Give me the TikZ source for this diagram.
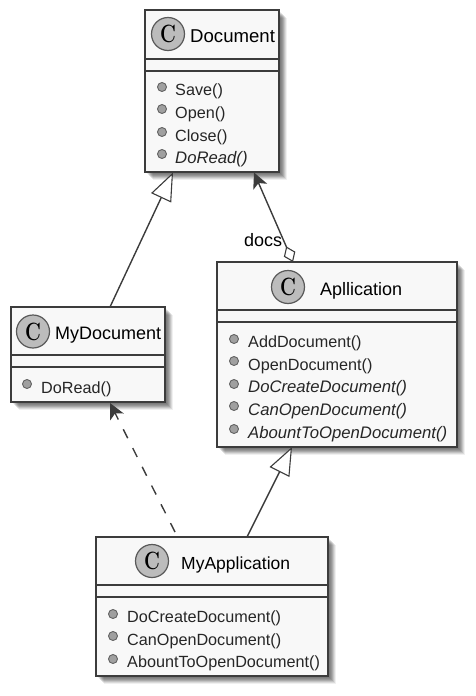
\documentclass[tikz,border=0pt]{standalone}
\usepackage{fontspec}
\newfontfamily\uifont{Liberation Sans}
\usetikzlibrary{arrows.meta}
\definecolor{boxfill}{HTML}{F8F8F8}
\definecolor{boxline}{HTML}{3C3C3C}
\definecolor{spotfill}{HTML}{BCBCBC}
\definecolor{dotfill}{HTML}{A0A0A0}
\newcommand{\spotletter}{\scalebox{.78}[1]{\bfseries C}}
\tikzset{
  shadowed/.style={
    preaction={fill=black,opacity=.08,transform canvas={xshift=2pt,yshift=-2pt}},
    preaction={fill=black,opacity=.10,transform canvas={xshift=3pt,yshift=-3pt}},
    preaction={fill=black,opacity=.12,transform canvas={xshift=4pt,yshift=-4pt}},
    preaction={fill=black,opacity=.12,transform canvas={xshift=5pt,yshift=-5pt}},
    preaction={fill=black,opacity=.11,transform canvas={xshift=6pt,yshift=-6pt}},
    preaction={fill=black,opacity=.09,transform canvas={xshift=7pt,yshift=-7pt}},
    preaction={fill=black,opacity=.06,transform canvas={xshift=8pt,yshift=-8pt}}},
  classbox/.style={shadowed,draw=boxline,fill=boxfill,line width=2pt,rectangle,inner sep=0pt,outer sep=0pt},
  sepline/.style={draw=boxline,line width=2pt},
  spot/.style={circle,draw=boxline!85,line width=1.2pt,fill=spotfill,minimum size=33pt,inner sep=0pt,
    font=\fontsize{25}{25}\selectfont},
  classname/.style={font=\uifont\fontsize{18}{20}\selectfont,text=black,inner sep=0pt,anchor=base west},
  member/.style={font=\uifont\fontsize{16.2}{18}\selectfont,text=black!85,inner sep=0pt,anchor=base west},
  abstractmember/.style={member,font=\uifont\itshape\fontsize{16.7}{18}\selectfont},
  memberdot/.style={circle,draw=boxline!80,line width=.9pt,fill=dotfill,minimum size=9pt,inner sep=0pt},
  link/.style={draw=boxline,line width=1.4pt},
  inherit/.style={link,-{Triangle[open,length=28pt,width=22pt,line width=1.1pt,fill=white]}},
  depend/.style={link,dash pattern=on 10pt off 11pt,-{Stealth[inset=4pt,length=15.5pt,width=15pt]}},
  aggreg/.style={link,{Diamond[open,length=17pt,width=12.5pt,line width=1.1pt,fill=white]}-{Stealth[inset=4pt,length=15.5pt,width=15pt]}},
  linklabel/.style={font=\uifont\fontsize{18}{20}\selectfont,text=black,inner sep=0pt,anchor=base west}
}
\begin{document}
\begin{tikzpicture}[x=1pt,y=-1pt]
\useasboundingbox (0,0) rectangle (475,696);
% Document
\node[classbox,minimum width=134pt,minimum height=162pt] (document) at (212,91) {};
\draw[sepline] (145,59) -- (279,59) (145,71) -- (279,71);
\node[spot] (documentC) at (168,34) {\spotletter};
\node[classname,font=\uifont\fontsize{18.6}{20}\selectfont] (documentN) at (190,42) {Document};
\node[memberdot] (d1) at (162,87) {}; \node[member] (d1t) at (175,95) {Save()};
\node[memberdot] (d2) at (162,109) {}; \node[member] (d2t) at (175,118) {Open()};
\node[memberdot] (d3) at (162,132) {}; \node[member] (d3t) at (175,141) {Close()};
\node[memberdot] (d4) at (162,154) {}; \node[abstractmember] (d4t) at (175,163) {DoRead()};
% Apllication
\node[classbox,minimum width=240pt,minimum height=185pt] (app) at (337,354.5) {};
\draw[sepline] (217,310) -- (457,310) (217,322) -- (457,322);
\node[spot] (appC) at (288,287) {\spotletter};
\node[classname] (appN) at (320,295) {Apllication};
\node[memberdot] (a1) at (234,339) {}; \node[member] (a1t) at (248,347) {AddDocument()};
\node[memberdot] (a2) at (234,361) {}; \node[member] (a2t) at (248,370) {OpenDocument()};
\node[memberdot] (a3) at (234,384) {}; \node[abstractmember] (a3t) at (248,392) {DoCreateDocument()};
\node[memberdot] (a4) at (234,406) {}; \node[abstractmember] (a4t) at (248,415) {CanOpenDocument()};
\node[memberdot] (a5) at (234,429) {}; \node[abstractmember] (a5t) at (248,438) {AbountToOpenDocument()};
% MyDocument
\node[classbox,minimum width=154pt,minimum height=95pt] (mydoc) at (88,354.5) {};
\draw[sepline] (11,355) -- (165,355) (11,367) -- (165,367);
\node[spot] (mydocC) at (33,331.5) {\spotletter};
\node[classname] (mydocN) at (55,339) {MyDocument};
\node[memberdot] (m1) at (27,384) {}; \node[member] (m1t) at (41,393) {DoRead()};
% MyApplication
\node[classbox,minimum width=232pt,minimum height=139pt] (myapp) at (212,606.5) {};
\draw[sepline] (96,585) -- (328,585) (96,597) -- (328,597);
\node[spot] (myappC) at (152,561) {\spotletter};
\node[classname,font=\uifont\fontsize{17.5}{20}\selectfont] (myappN) at (181,569) {MyApplication};
\node[memberdot] (y1) at (113,614) {}; \node[member] (y1t) at (127,622) {DoCreateDocument()};
\node[memberdot] (y2) at (113,636) {}; \node[member] (y2t) at (127,645) {CanOpenDocument()};
\node[memberdot] (y3) at (113,659) {}; \node[member] (y3t) at (127,667) {AbountToOpenDocument()};
% connector ends on the box edges
\coordinate (docInherit) at (173,172.5);
\coordinate (docAgg) at (254,172.5);
\coordinate (mydocUp) at (110,307);
\coordinate (mydocDep) at (110,403);
\coordinate (appTop) at (293,262);
\coordinate (appBottom) at (292,447);
\coordinate (myappInh) at (247,537);
\coordinate (myappDep) at (175,532);
\draw[inherit] (mydocUp) -- (docInherit);
\draw[inherit] (myappInh) -- (appBottom);
\draw[depend] (myappDep) -- (mydocDep);
\draw[aggreg] (appTop) -- (docAgg);
\node[linklabel] (docs) at (244,246.5) {docs};
\end{tikzpicture}
\end{document}
